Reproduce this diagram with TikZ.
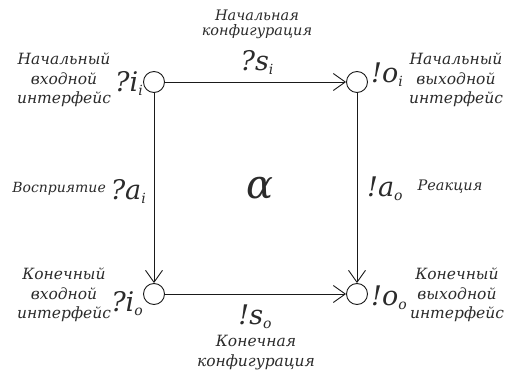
\documentclass[tikz,border=0pt]{standalone}
\usepackage{fontspec}
\setmainfont{DejaVu Serif}
\usepackage{tikz}
\usetikzlibrary{arrows.meta,positioning}
\definecolor{ink}{HTML}{1A1A1A}
\definecolor{txt}{HTML}{2B2B2B}
\newcommand\sig[3]{{\fontsize{27}{27}\selectfont\itshape #1#2\raisebox{-4pt}{\fontsize{14}{14}\selectfont #3}}}
\tikzset{
  port/.style={draw=ink,circle,line width=0.9pt,minimum size=21pt,inner sep=0pt},
  arr/.style={-{Straight Barb[length=12pt,width=17pt,line width=0.9pt]},line width=0.9pt,color=ink},
  lbl/.style={font=\fontsize{15.5}{19.5}\selectfont\itshape,color=txt,align=center,inner sep=0pt},
  sym/.style={color=txt,inner sep=0pt}}
\begin{document}
\begin{tikzpicture}[x=1pt,y=-1pt]
\useasboundingbox (0,0) rectangle (506,374);
\node[port] (ii) at (154,82) {};
\node[port] (oi) at (357,82) {};
\node[port] (io) at (154,294) {};
\node[port] (oo) at (357,294) {};
\draw[arr] (ii) -- (oi); \draw[arr] (ii) -- (io); \draw[arr] (oi) -- (oo); \draw[arr] (io) -- (oo);
\node[sym,anchor=base east] (sii) at (143,92) {\sig{?}{i}{i}};
\node[sym,anchor=base west] (soi) at (371,83) {\sig{!}{o}{i}};
\node[sym,anchor=base east] (sio) at (143,311) {\sig{?}{i}{o}};
\node[sym,anchor=base west] (soo) at (371,305) {\sig{!}{o}{o}};
\node[sym,anchor=base east] (sai) at (146,200) {\sig{?}{a}{i}};
\node[sym,anchor=base west] (sao) at (367,197) {\sig{!}{a}{o}};
\node[sym,anchor=base] (ssi) at (257,71) {\sig{?}{s}{i}};
\node[sym,anchor=base] (sso) at (255,324) {\sig{!}{s}{o}};
\node[sym,font=\fontsize{40}{40}\selectfont\itshape] (alpha) at (260,188) {α};
\node[lbl] (tii) at (64,80) {Начальный\\входной\\интерфейс};
\node[lbl] (toi) at (456,80) {Начальный\\выходной\\интерфейс};
\node[lbl] (tio) at (64,295) {Конечный\\входной\\интерфейс};
\node[lbl] (too) at (457,295) {Конечный\\выходной\\интерфейс};
\node[lbl,font=\fontsize{14.5}{15}\selectfont\itshape] (tsi) at (257,24) {Начальная\\конфигурация};
\node[lbl] (tso) at (256,352.5) {Конечная\\конфигурация};
\node[lbl,font=\fontsize{14}{14}\selectfont\itshape,anchor=base east] (tai) at (106,193) {Восприятие};
\node[lbl,font=\fontsize{14.5}{15}\selectfont\itshape,anchor=base] (tao) at (450,191) {Реакция};
\end{tikzpicture}
\end{document}
